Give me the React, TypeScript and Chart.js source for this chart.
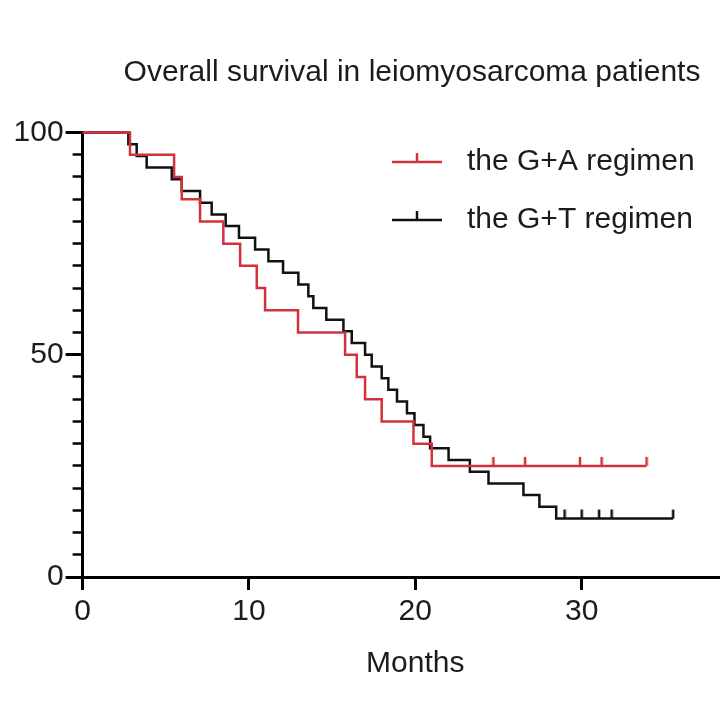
import { useEffect, useRef } from "react"
import { Chart, registerables } from "chart.js"

Chart.register(...registerables)

// G+A regimen: event times (months) and survival (%) after each step
const gaTimes = [0, 2.85, 5.5, 5.96, 7.06, 8.46, 9.47, 10.47, 10.97, 12.95, 15.78, 16.48, 16.98, 17.98, 19.89, 20.99, 33.9]
const gaSurvival = [100, 95, 90, 85, 80, 75, 70, 65, 60, 55, 50, 45, 40, 35, 30, 25, 25]
const gaCensored = [24.7, 26.6, 29.9, 31.2, 33.9]
const gaCensoredSurvival = [25, 25, 25, 25, 25]

// G+T regimen
const gtTimes = [
  0, 2.75, 3.25, 3.85, 5.36, 5.96, 7.06, 7.76, 8.6, 9.4, 10.37, 11.17, 12.05, 12.97, 13.57, 13.87, 14.65,
  15.68, 16.18, 16.98, 17.38, 17.98, 18.38, 18.9, 19.5, 19.95, 20.49, 20.89, 22.0, 23.28, 24.4, 26.5,
  27.46, 28.47, 35.5,
]
const gtSurvival = [
  100, 97.37, 94.74, 92.11, 89.47, 86.84, 84.21, 81.58, 78.95, 76.32, 73.68, 71.05, 68.42, 65.79, 63.16,
  60.53, 57.89, 55.26, 52.63, 50.0, 47.37, 44.74, 42.11, 39.47, 36.84, 34.21, 31.58, 28.95, 26.32, 23.68,
  21.05, 18.42, 15.79, 13.16, 13.16,
]
const gtCensored = [28.97, 30.0, 31.05, 31.8, 35.5]
const gtCensoredSurvival = [13.16, 13.16, 13.16, 13.16, 13.16]

const seriesLabels = ["the G+A regimen", "the G+T regimen"]
const chartTitle = "Overall survival in leiomyosarcoma patients"
const xTitle = "Months"

const RED = "#d3313c"
const BLACK = "#111111"
const TEXT = "#1c1c1c"
const FONT = "'Liberation Sans', Arial, Helvetica, sans-serif"

// small upward tick used as the censoring mark
function censorMark(color: string) {
  const c = document.createElement("canvas")
  c.width = 4
  c.height = 20
  const ctx = c.getContext("2d")
  if (ctx) {
    ctx.strokeStyle = color
    ctx.lineWidth = 2.5
    ctx.beginPath()
    ctx.moveTo(2, 1)
    ctx.lineTo(2, 10)
    ctx.stroke()
  }
  return c
}

const titleAndLegend = {
  id: "titleAndLegend",
  afterDraw(chart: Chart) {
    const ctx = chart.ctx
    ctx.save()
    ctx.fillStyle = TEXT
    ctx.font = `30px ${FONT}`
    ctx.textAlign = "center"
    ctx.textBaseline = "middle"
    ctx.fillText(chartTitle, 412, 73)

    const rows = [
      { label: seriesLabels[0], color: RED, y: 162 },
      { label: seriesLabels[1], color: BLACK, y: 220 },
    ]
    rows.forEach((r) => {
      ctx.strokeStyle = r.color
      ctx.lineWidth = 2.5
      ctx.beginPath()
      ctx.moveTo(392, r.y)
      ctx.lineTo(442, r.y)
      ctx.moveTo(417, r.y)
      ctx.lineTo(417, r.y - 9)
      ctx.stroke()
      ctx.textAlign = "left"
      ctx.fillStyle = TEXT
      ctx.fillText(r.label, 467, r.y)
    })
    ctx.restore()
  },
}

export default function App() {
  const chartRef = useRef<HTMLCanvasElement>(null)
  const chartInstance = useRef<Chart | null>(null)

  useEffect(() => {
    if (!chartRef.current) return
    if (chartInstance.current) chartInstance.current.destroy()
    const ctx = chartRef.current.getContext("2d")
    if (!ctx) return

    const font = { family: FONT, size: 30 }

    chartInstance.current = new Chart(ctx, {
      type: "line",
      data: {
        datasets: [
          {
            label: seriesLabels[0],
            data: gaTimes.map((t, i) => ({ x: t, y: gaSurvival[i] })),
            borderColor: RED,
            borderWidth: 2.5,
            stepped: "before",
            pointRadius: 0,
            fill: false,
            clip: false,
          },
          {
            type: "scatter",
            label: "G+A censored",
            data: gaCensored.map((t, i) => ({ x: t, y: gaCensoredSurvival[i] })),
            pointStyle: censorMark(RED),
            pointRadius: 5,
            showLine: false,
            clip: false,
          },
          {
            label: seriesLabels[1],
            data: gtTimes.map((t, i) => ({ x: t, y: gtSurvival[i] })),
            borderColor: BLACK,
            borderWidth: 2.5,
            stepped: "before",
            pointRadius: 0,
            fill: false,
            clip: false,
          },
          {
            type: "scatter",
            label: "G+T censored",
            data: gtCensored.map((t, i) => ({ x: t, y: gtCensoredSurvival[i] })),
            pointStyle: censorMark(BLACK),
            pointRadius: 5,
            showLine: false,
            clip: false,
          },
        ],
      } as any,
      options: {
        animation: false,
        responsive: true,
        maintainAspectRatio: false,
        events: [],
        layout: { padding: { top: 132.5, right: 42, left: 0, bottom: 0 } },
        plugins: {
          legend: { display: false },
          title: { display: false },
          tooltip: { enabled: false },
        },
        scales: {
          x: {
            type: "linear",
            min: 0,
            max: 40,
            ticks: { stepSize: 10, color: TEXT, font, padding: 4, maxRotation: 0 },
            grid: { drawOnChartArea: false, tickLength: 13, tickWidth: 3, tickColor: "#000" },
            border: { color: "#000", width: 3 },
            title: { display: true, text: xTitle, color: TEXT, font, padding: { top: 0, bottom: 38 } },
            afterFit: (s: any) => {
              s.height = 143
            },
          },
          y: {
            type: "linear",
            position: "left",
            weight: 1,
            min: 0,
            max: 100,
            ticks: { stepSize: 50, color: TEXT, font, padding: 2 },
            grid: { drawOnChartArea: false, tickLength: 17, tickWidth: 3, tickColor: "#000" },
            border: { color: "#000", width: 3 },
            afterFit: (s: any) => {
              s.width = 82.6
            },
          },
          yMinor: {
            type: "linear",
            position: "left",
            weight: 0,
            min: 0,
            max: 100,
            ticks: { stepSize: 5, display: false },
            grid: { drawOnChartArea: false, tickLength: 10, tickWidth: 2.5, tickColor: "#000" },
            border: { display: false },
            afterFit: (s: any) => {
              s.width = 0
            },
          },
        },
      } as any,
      plugins: [titleAndLegend],
    })

    return () => {
      if (chartInstance.current) {
        chartInstance.current.destroy()
        chartInstance.current = null
      }
    }
  }, [])

  return (
    <div
      style={{
        position: "fixed",
        left: 0,
        top: 0,
        width: 720,
        height: 720,
        overflow: "hidden",
        background: "#fff",
      }}
    >
      <div style={{ position: "relative", width: 790, height: 720 }}>
        <canvas ref={chartRef} />
      </div>
    </div>
  )
}
